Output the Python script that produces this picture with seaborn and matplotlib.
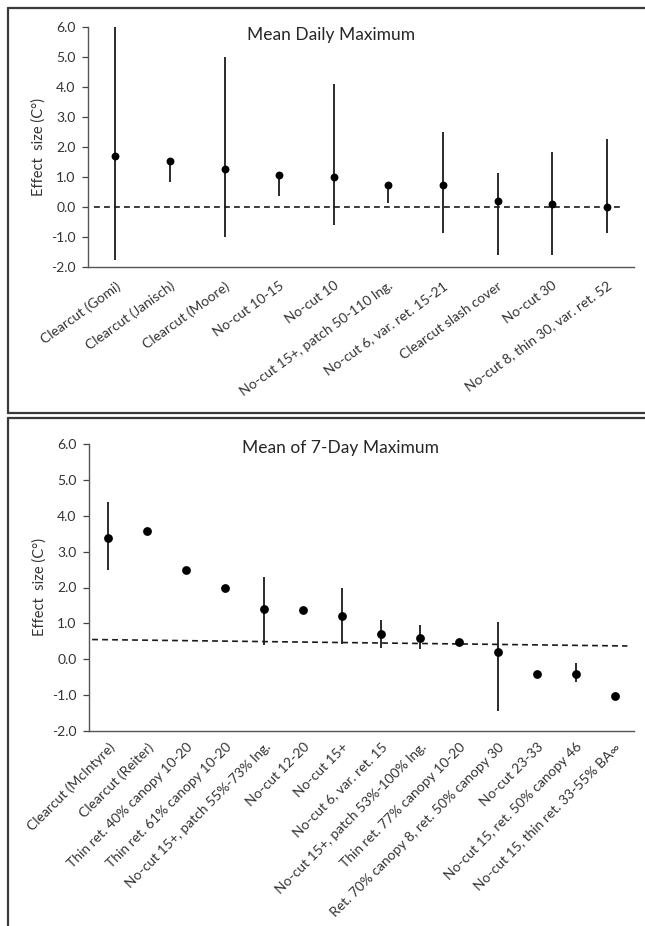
import numpy as np
import pandas as pd
import seaborn as sns
import matplotlib.pyplot as plt
from matplotlib.lines import Line2D

# Mean Daily Maximum
kat1 = ['Clearcut (Gomi)', 'Clearcut (Janisch)', 'Clearcut (Moore)', 'No-cut 10-15',
        'No-cut 10', 'No-cut 15+, patch 50-110 lng.', 'No-cut 6, var. ret. 15-21',
        'Clearcut slash cover', 'No-cut 30', 'No-cut 8, thin 30, var. ret. 52']
hatas1 = [1.7, 1.53, 1.28, 1.05, 1.0, 0.73, 0.73, 0.2, 0.1, 0.0]
also1 = [-1.77, 0.82, -1.0, 0.38, -0.6, 0.15, -0.88, -1.6, -1.6, -0.87]
felso1 = [6.0, 1.53, 5.0, 1.05, 4.1, 0.73, 2.5, 1.12, 1.82, 2.28]
ref1 = [0.0, 0.0]

# Mean of 7-Day Maximum
kat2 = ['Clearcut (McIntyre)', 'Clearcut (Reiter)', 'Thin ret. 40% canopy 10-20',
        'Thin ret. 61% canopy 10-20', 'No-cut 15+, patch 55%-73% lng.', 'No-cut 12-20',
        'No-cut 15+', 'No-cut 6, var. ret. 15', 'No-cut 15+, patch 53%-100% lng.',
        'Thin ret. 77% canopy 10-20', 'Ret. 70% canopy 8, ret. 50% canopy 30',
        'No-cut 23-33', 'No-cut 15, ret. 50% canopy 46', 'No-cut 15, thin ret. 33-55% BA\u221e']
hatas2 = [3.38, 3.58, 2.5, 2.0, 1.4, 1.38, 1.2, 0.7, 0.6, 0.48, 0.2, -0.42, -0.42, -1.02]
also2 = [2.49, np.nan, np.nan, np.nan, 0.4, np.nan, 0.42, 0.3, 0.28, np.nan, -1.45, np.nan, -0.64, np.nan]
felso2 = [4.39, np.nan, np.nan, np.nan, 2.3, np.nan, 2.0, 1.1, 0.95, np.nan, 1.03, np.nan, -0.1, np.nan]
ref2 = [0.55, 0.37]

sns.set_style('white')
plt.rcParams['font.family'] = ['Lato', 'DejaVu Sans']

fig = plt.figure(figsize=(6.45, 9.26), dpi=100)
W, H = 645, 926

# keretek (panel borders)
keret = '#3a3a3a'
for xs, ys in [([8, 8], [8, 413]), ([8, 645], [8, 8]), ([8, 645], [413, 413]),
               ([8, 8], [418, 926]), ([8, 645], [418, 418])]:
    fig.add_artist(Line2D([x / W for x in xs], [1 - y / H for y in ys],
                          color=keret, lw=1.6, transform=fig.transFigure))

ax1 = fig.add_axes([88 / W, 1 - 267 / H, 546 / W, 240 / H])
ax2 = fig.add_axes([89 / W, 1 - 731 / H, 545 / W, 287 / H])


def panel(ax, kat, hatas, also, felso, ref, x_ref, cim, cim_xy, forgatas, ms, lab_pad):
    df = pd.DataFrame({'kat': kat, 'hatas': hatas, 'also': also, 'felso': felso})
    n = len(df)
    ax.vlines(range(n), df['also'], df['felso'], color='#1a1a1a', lw=1.3, zorder=2)
    sns.scatterplot(data=df, x='kat', y='hatas', ax=ax, color='black', s=ms,
                    edgecolor='black', linewidth=0, zorder=3, legend=False)
    ax.plot(x_ref, ref, ls=(0, (3.5, 2.5)), color='#1a1a1a', lw=1.2, zorder=1)
    ax.set_xlim(-0.5, n - 0.5)
    ax.set_ylim(-2, 6)
    ax.set_yticks(np.arange(-2, 7, 1))
    ax.yaxis.set_major_formatter(plt.FormatStrFormatter('%.1f'))
    ax.set_xticks(range(n))
    ax.set_xticklabels(kat, rotation=forgatas, ha='right', rotation_mode='anchor',
                       fontsize=10, color='#333333')
    ax.tick_params(axis='x', length=0, pad=lab_pad)
    ax.tick_params(axis='y', length=4, width=0.9, color='#444444', labelsize=10,
                   labelcolor='#333333', pad=5, left=True)
    ax.set_xlabel('')
    ax.set_ylabel('Effect  size (C\u00b0)', fontsize=10.5, color='#333333', labelpad=4)
    sns.despine(ax=ax)
    for s in ['left', 'bottom']:
        ax.spines[s].set_color('#555555')
        ax.spines[s].set_linewidth(1.0)
    fig.text(cim_xy[0] / W, 1 - cim_xy[1] / H, cim, ha='center', va='center',
             fontsize=12.5, color='#262626')


panel(ax1, kat1, hatas1, also1, felso1, ref1, [-0.39, 9.24], 'Mean Daily Maximum',
      (331, 35), 36, 32, 9)
panel(ax2, kat2, hatas2, also2, felso2, ref2, [-0.42, 13.33], 'Mean of 7-Day Maximum',
      (340, 448), 45, 40, 7)

fig.savefig('out.png', dpi=100)
